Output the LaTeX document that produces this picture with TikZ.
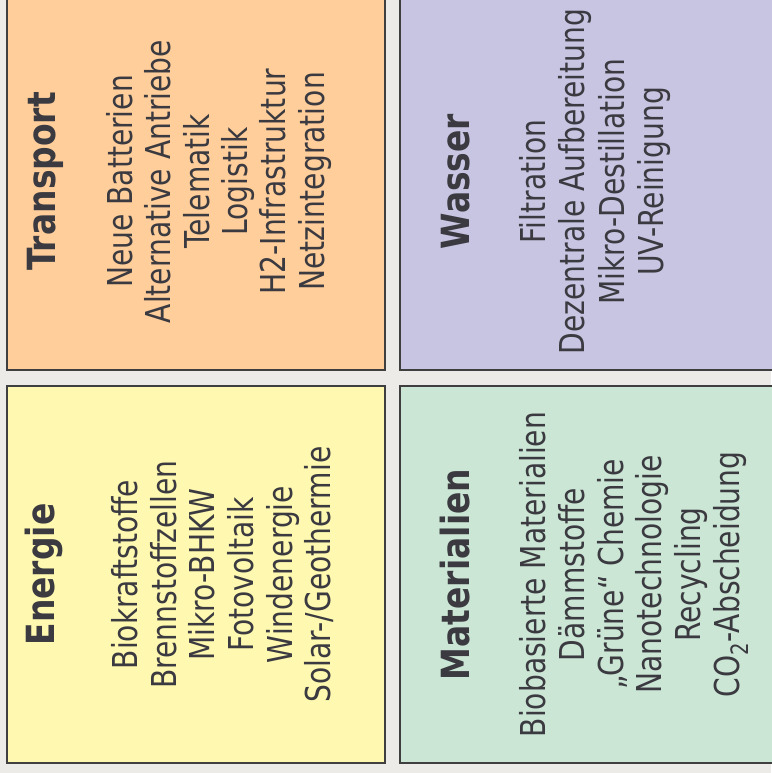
\documentclass[tikz,border=0pt]{standalone}
\usepackage{fontspec}
\setmainfont[FakeStretch=0.82,BoldFeatures={FakeStretch=0.85}]{DejaVu Sans}
\usepackage{xcolor}
\usetikzlibrary{calc}
\definecolor{bggray}{HTML}{EDEBE8}
\definecolor{framegray}{HTML}{3F3F3F}
\definecolor{textgray}{HTML}{3A3A40}
\definecolor{transportfill}{HTML}{FFCE9B}
\definecolor{wasserfill}{HTML}{C8C5E2}
\definecolor{energiefill}{HTML}{FFF8B0}
\definecolor{materialfill}{HTML}{CBE6D4}

\begin{document}
\begin{tikzpicture}[x=1pt, y=-1pt,
            field/.style={rectangle, draw=framegray, line width=2pt, minimum width=378pt, minimum height=377pt, inner sep=0pt},
            heading/.style={rotate=90, anchor=base, inner sep=0pt, text=textgray, font=\fontsize{38.8}{42}\selectfont\bfseries},
            item/.style={rotate=90, anchor=base, inner sep=0pt, text=textgray, font=\fontsize{34.3}{38}\selectfont}
        ]

        % Background
        \fill[bggray] (0,0) rectangle (771,773);
        \useasboundingbox (0,0) rectangle (771,773);

        % Fields
        \node[field, fill=transportfill] (transport) at (196,181.5) {};
        \node[field, fill=wasserfill] (wasser) at (589,181.5) {};
        \node[field, fill=energiefill] (energie) at (196,574.5) {};
        \node[field, fill=materialfill] (materialien) at (589,574.5) {};

        % Transport
        \node[heading] (transport-title) at ($(transport.west)+(49.5,0)$) {Transport};
        \foreach \entry [count=\i] in {Neue Batterien, Alternative Antriebe, Telematik, Logistik, H2-Infrastruktur, Netzintegration}
            \node[item] (transport-\i) at ($(transport-title.base)+(38.4+38.4*\i,0)$) {\entry};

        % Wasser
        \node[heading] (wasser-title) at ($(wasser.west)+(70,0)$) {Wasser};
        \foreach \entry [count=\i] in {Filtration, Dezentrale Aufbereitung, Mikro-Destillation, UV-Reinigung}
            \node[item] (wasser-\i) at ($(wasser-title.base)+(37.5+39.2*\i,0)$) {\entry};

        % Energie
        \node[heading] (energie-title) at ($(energie.west)+(48,0)$) {Energie};
        \foreach \entry [count=\i] in {Biokraftstoffe, Brennstoffzellen, Mikro-BHKW, Fotovoltaik, Windenergie, Solar-/Geothermie}
            \node[item] (energie-\i) at ($(energie-title.base)+(44.6+38.7*\i,0)$) {\entry};

        % Materialien
        \node[heading] (materialien-title) at ($(materialien.west)+(70,0)$) {Materialien};
        \foreach \entry [count=\i] in {Biobasierte Materialien, Dämmstoffe, „Grüne“ Chemie, Nanotechnologie, Recycling, CO\textsubscript{2}-Abscheidung}
            \node[item] (materialien-\i) at ($(materialien-title.base)+(38+38.7*\i,0)$) {\entry};

    \end{tikzpicture}
\end{document}
